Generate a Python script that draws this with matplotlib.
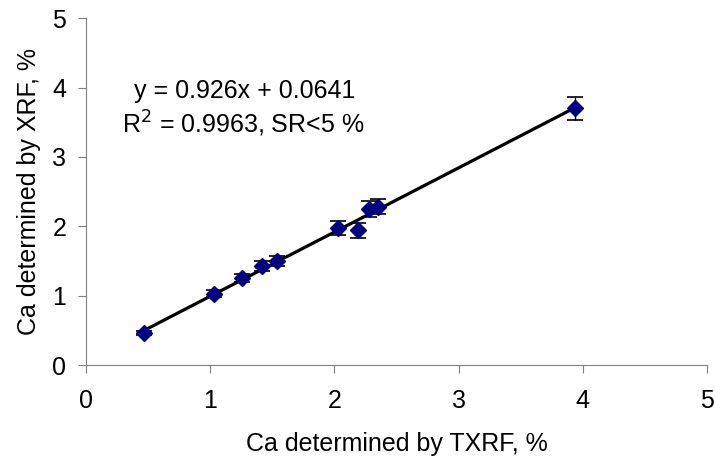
import numpy as np
import matplotlib.pyplot as plt

plt.rcParams['font.family'] = ['Liberation Sans', 'DejaVu Sans']

txrf = [0.47, 1.03, 1.26, 1.42, 1.54, 2.03, 2.19, 2.28, 2.35, 3.94]
xrf = [0.46, 1.03, 1.25, 1.43, 1.50, 1.97, 1.94, 2.25, 2.28, 3.70]
xrf_err = [0.03, 0.05, 0.06, 0.075, 0.075, 0.10, 0.11, 0.11, 0.11, 0.17]
slope, intercept = 0.926, 0.0641

fig = plt.figure(figsize=(7.15, 4.65), dpi=100)
ax = fig.add_axes([0.120, 0.215, 0.869, 0.746])

xs = np.array([min(txrf), max(txrf)])
ax.plot(xs, slope * xs + intercept, color='black', lw=2.3, zorder=2)
ax.errorbar(txrf, xrf, yerr=xrf_err, fmt='none', ecolor='black', elinewidth=1,
            capsize=6, capthick=1.2, zorder=3)
ax.plot(txrf, xrf, 'D', color='#000080', ms=8, zorder=4)

ax.set_xlim(0, 5)
ax.set_ylim(0, 5)
ax.set_xticks(range(6))
ax.set_yticks(range(6))
for s in ['top', 'right']:
    ax.spines[s].set_visible(False)
for s in ['left', 'bottom']:
    ax.spines[s].set_color('#808080')
ax.tick_params(colors='#808080', labelcolor='black', labelsize=18, length=6)
ax.tick_params(axis='x', pad=11)
ax.tick_params(axis='y', pad=8)

ax.set_xlabel('Ca determined by TXRF, %', fontsize=18, labelpad=14)
ax.set_ylabel('Ca determined by XRF, %', fontsize=18, labelpad=8)

ax.text(1.28, 3.85, 'y = 0.926x + 0.0641', fontsize=18, ha='center', va='baseline')
ax.text(1.27, 3.34, 'R$^2$ = 0.9963, SR<5 %', fontsize=18, ha='center', va='baseline')

fig.savefig('out.png')
